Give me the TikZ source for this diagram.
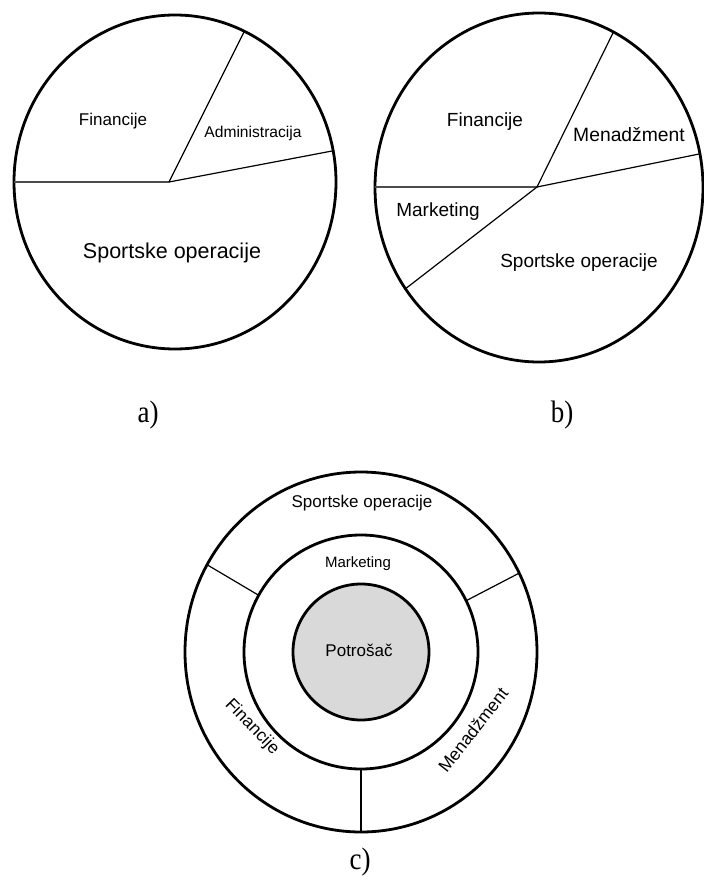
\documentclass[tikz,border=0pt]{standalone}
\usepackage{graphicx}
\usepackage{fontspec}
\setmainfont{Liberation Serif}
\newfontfamily\lsans{Liberation Sans}
\usetikzlibrary{intersections,calc}
\begin{document}
\begin{tikzpicture}[x=1bp,y=-1bp,
  ring/.style={line width=2.8bp},
  divider/.style={line width=1.2bp},
  grayline/.style={line width=1.8bp, black!70},
  lbl/.style={font=\lsans\fontsize{#1bp}{#1bp}\selectfont, inner sep=0pt},
  caption/.style={font=\fontsize{27bp}{27bp}\selectfont, inner sep=0pt},
]
\useasboundingbox (0,0) rectangle (704,893);

% ---------- a) ----------
\coordinate (ca) at (175,182);
\coordinate (ha) at (169,182);
\draw[ring, name path=ea] (ca) ellipse [x radius=161, y radius=167];
\path[name path=ra1] (ha) -- ++(-220,0);
\path[name path=ra2] (ha) -- ($(ha)!2!(242,36)$);
\path[name path=ra3] (ha) -- ($(ha)!2!(332,151)$);
\path[name intersections={of=ea and ra1, by=a1}];
\path[name intersections={of=ea and ra2, by=a2}];
\path[name intersections={of=ea and ra3, by=a3}];
\draw[grayline] (a1) -- (ha);
\draw[divider] (ha) -- (a2);
\draw[divider] (ha) -- (a3);
\node[lbl=17] (afin) at (113,121) {Financije};
\node[lbl=15.6] (aadm) at (253,133) {Administracija};
\node[lbl=21.5] (aspo) at (172,253) {Sportske operacije};
\node[caption] (capa) at (148,415) {\scalebox{1}[1.15]{a)}};

% ---------- b) ----------
\coordinate (cb) at (539,187.5);
\coordinate (hb) at (537,187);
\draw[ring, name path=eb] (cb) ellipse [x radius=164, y radius=174.5];
\path[name path=rb1] (hb) -- ++(-220,0);
\path[name path=rb2] (hb) -- ($(hb)!2!(613,33)$);
\path[name path=rb3] (hb) -- ($(hb)!2!(704,153)$);
\path[name path=rb4] (hb) -- ($(hb)!2!(409,286)$);
\path[name intersections={of=eb and rb1, by=b1}];
\path[name intersections={of=eb and rb2, by=b2}];
\path[name intersections={of=eb and rb3, by=b3}];
\path[name intersections={of=eb and rb4, by=b4}];
\draw[grayline] (b1) -- (hb);
\draw[divider] (hb) -- (b2);
\draw[divider] (hb) -- (b3);
\draw[divider] (hb) -- (b4);
\node[lbl=19] (bfin) at (485,122) {Financije};
\node[lbl=19.3] (bmen) at (629,135) {Menadžment};
\node[lbl=19] (bmar) at (438,212) {Marketing};
\node[lbl=19] (bspo) at (579,263) {Sportske operacije};
\node[caption] (capb) at (562,415) {\scalebox{1}[1.15]{b)}};

% ---------- c) ----------
\coordinate (cc) at (361,652);
\draw[ring] (cc) ellipse [x radius=176, y radius=180];
\draw[ring] (cc) circle [radius=117];
\draw[ring, fill=black!15] (cc) circle [radius=68];
\coordinate (m1) at ($(cc)+(-151:117)$);
\coordinate (o1) at ($(cc)+({176*cos(-151)},{180*sin(-151)})$);
\coordinate (m2) at ($(cc)+(-26:117)$);
\coordinate (o2) at ($(cc)+({176*cos(-26)},{180*sin(-26)})$);
\coordinate (m3) at ($(cc)+(90:117)$);
\coordinate (o3) at ($(cc)+(0,180)$);
\draw[divider] (m1) -- (o1);
\draw[divider] (m2) -- (o2);
\draw[divider] (m3) -- (o3);
\node[lbl=17] (cspo) at (362,503) {Sportske operacije};
\node[lbl=15] (cmar) at (358,564) {Marketing};
\node[lbl=17] (cpot) at (359,650) {Potrošač};
\node[lbl=17.4, rotate=-46] (cfin) at (252,727) {Financije};
\node[lbl=17.5, rotate=52] (cmen) at (473,730) {Menadžment};
\node[caption] (capc) at (360,862) {\scalebox{1}[1.15]{c)}};
\end{tikzpicture}
\end{document}
